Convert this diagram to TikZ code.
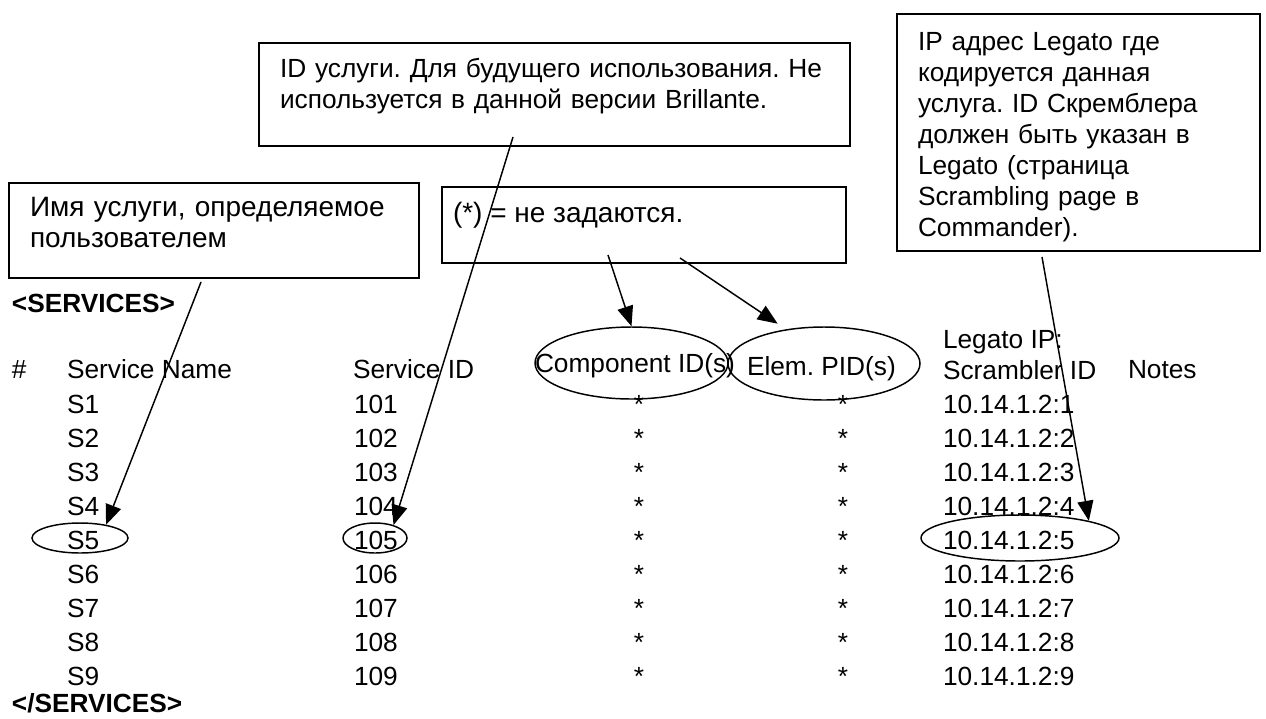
\documentclass[tikz,border=0pt]{standalone}
\usepackage{fontspec}
\setmainfont{Liberation Sans}
\usetikzlibrary{shapes.geometric,arrows.meta,calc}
\newcommand\tabfont{\fontsize{19.7pt}{23.25pt}\selectfont}
\newcommand\bigfont{\fontsize{21pt}{23.25pt}\selectfont}
\frenchspacing
\begin{document}
\begin{tikzpicture}[x=0.75pt,y=-0.75pt,
  txt/.style={inner sep=0pt,outer sep=0pt,anchor=base west,font=\tabfont},
  note/.style={txt,text width=#1,align=left},
  callout/.style={draw,line width=1.5pt,inner sep=0pt,anchor=north west},
  ell/.style={draw,ellipse,line width=1.1pt,inner sep=0pt},
  arr/.style={line width=1.1pt,-{Triangle[length=15pt,width=12pt]}}]

\useasboundingbox (0,0) rectangle (1266,718);
\fill[white] (0,0) rectangle (1266,718);

% callout boxes
\node[callout,minimum width=410*0.75pt,minimum height=95*0.75pt] (boxA) at (8,182) {};
\node[callout,minimum width=591*0.75pt,minimum height=103*0.75pt] (boxB) at (258,42) {};
\node[callout,minimum width=404*0.75pt,minimum height=76*0.75pt] (boxC) at (441,186) {};
\node[callout,minimum width=363*0.75pt,minimum height=237*0.75pt] (boxD) at (896,13) {};

\node[note=350pt,font=\bigfont] (tA) at (30,216) {Имя услуги, определяемое\\пользователем};
\node[note=440pt] (tB) at (280,77) {ID услуги. Для будущего использования. Не\\используется в данной версии Brillante.};
\node[txt,font=\bigfont] (tC) at (453,222) {(*) = не задаются.};
\node[note=260pt] (tD) at (918,50) {IP адрес Legato где\\кодируется данная\\услуга. ID Скремблера\\должен быть указан в\\Legato (страница\\Scrambling page в\\Commander).};

% table
\node[txt,font=\tabfont\bfseries] (open) at (12,312) {<SERVICES>};
\node[txt] (hash) at (12,378) {\#};
\node[txt] (hname) at (67,378) {Service Name};
\node[txt] (hid) at (353,378) {Service ID};
\node[txt] (hcomp) at (535,372) {Component ID(s)};
\node[txt] (helem) at (747,375) {Elem. PID(s)};
\node[txt] (hip1) at (943,348) {Legato IP:};
\node[txt] (hip2) at (943,379) {Scrambler ID};
\node[txt] (hnotes) at (1128,378) {Notes};

\foreach \i in {1,...,9}{
  \node[txt] (s\i) at (67,{413+34*(\i-1)}) {S\i};
  \node[txt] (id\i) at (354,{413+34*(\i-1)}) {10\i};
  \node[txt,anchor=base] (c\i) at (639,{413+34*(\i-1)}) {*};
  \node[txt,anchor=base] (e\i) at (843,{413+34*(\i-1)}) {*};
  \node[txt] (ip\i) at (943,{413+34*(\i-1)}) {10.14.1.2:\i};
}
\node[txt,font=\tabfont\bfseries] (close) at (12,712) {</SERVICES>};

% ellipses
\node[ell,minimum width=96*0.75pt,minimum height=30*0.75pt] (s5e) at (80,538) {};
\node[ell,minimum width=64*0.75pt,minimum height=30*0.75pt] (id5e) at (375,538) {};
\node[ell,minimum width=193*0.75pt,minimum height=72*0.75pt] (compe) at (631.5,363) {};
\node[ell,minimum width=192*0.75pt,minimum height=73*0.75pt] (eleme) at (824,363.5) {};
\node[ell,minimum width=198*0.75pt,minimum height=46*0.75pt] (ipe) at (1020,538) {};

% connectors
\coordinate (a0) at (201,282);
\coordinate (b0) at (513,137);
\coordinate (c0) at (608,255);
\coordinate (c1) at (680,258);
\coordinate (d0) at (1042,257);
\draw[arr] (a0) -- (s5e.27);
\draw[arr] (b0) -- (id5e.35);
\draw[arr] (c0) -- (compe.north);
\draw[arr,shorten >=7.5pt] (c1) -- (eleme.138);
\draw[arr] (d0) -- (ipe.14);
\end{tikzpicture}
\end{document}
